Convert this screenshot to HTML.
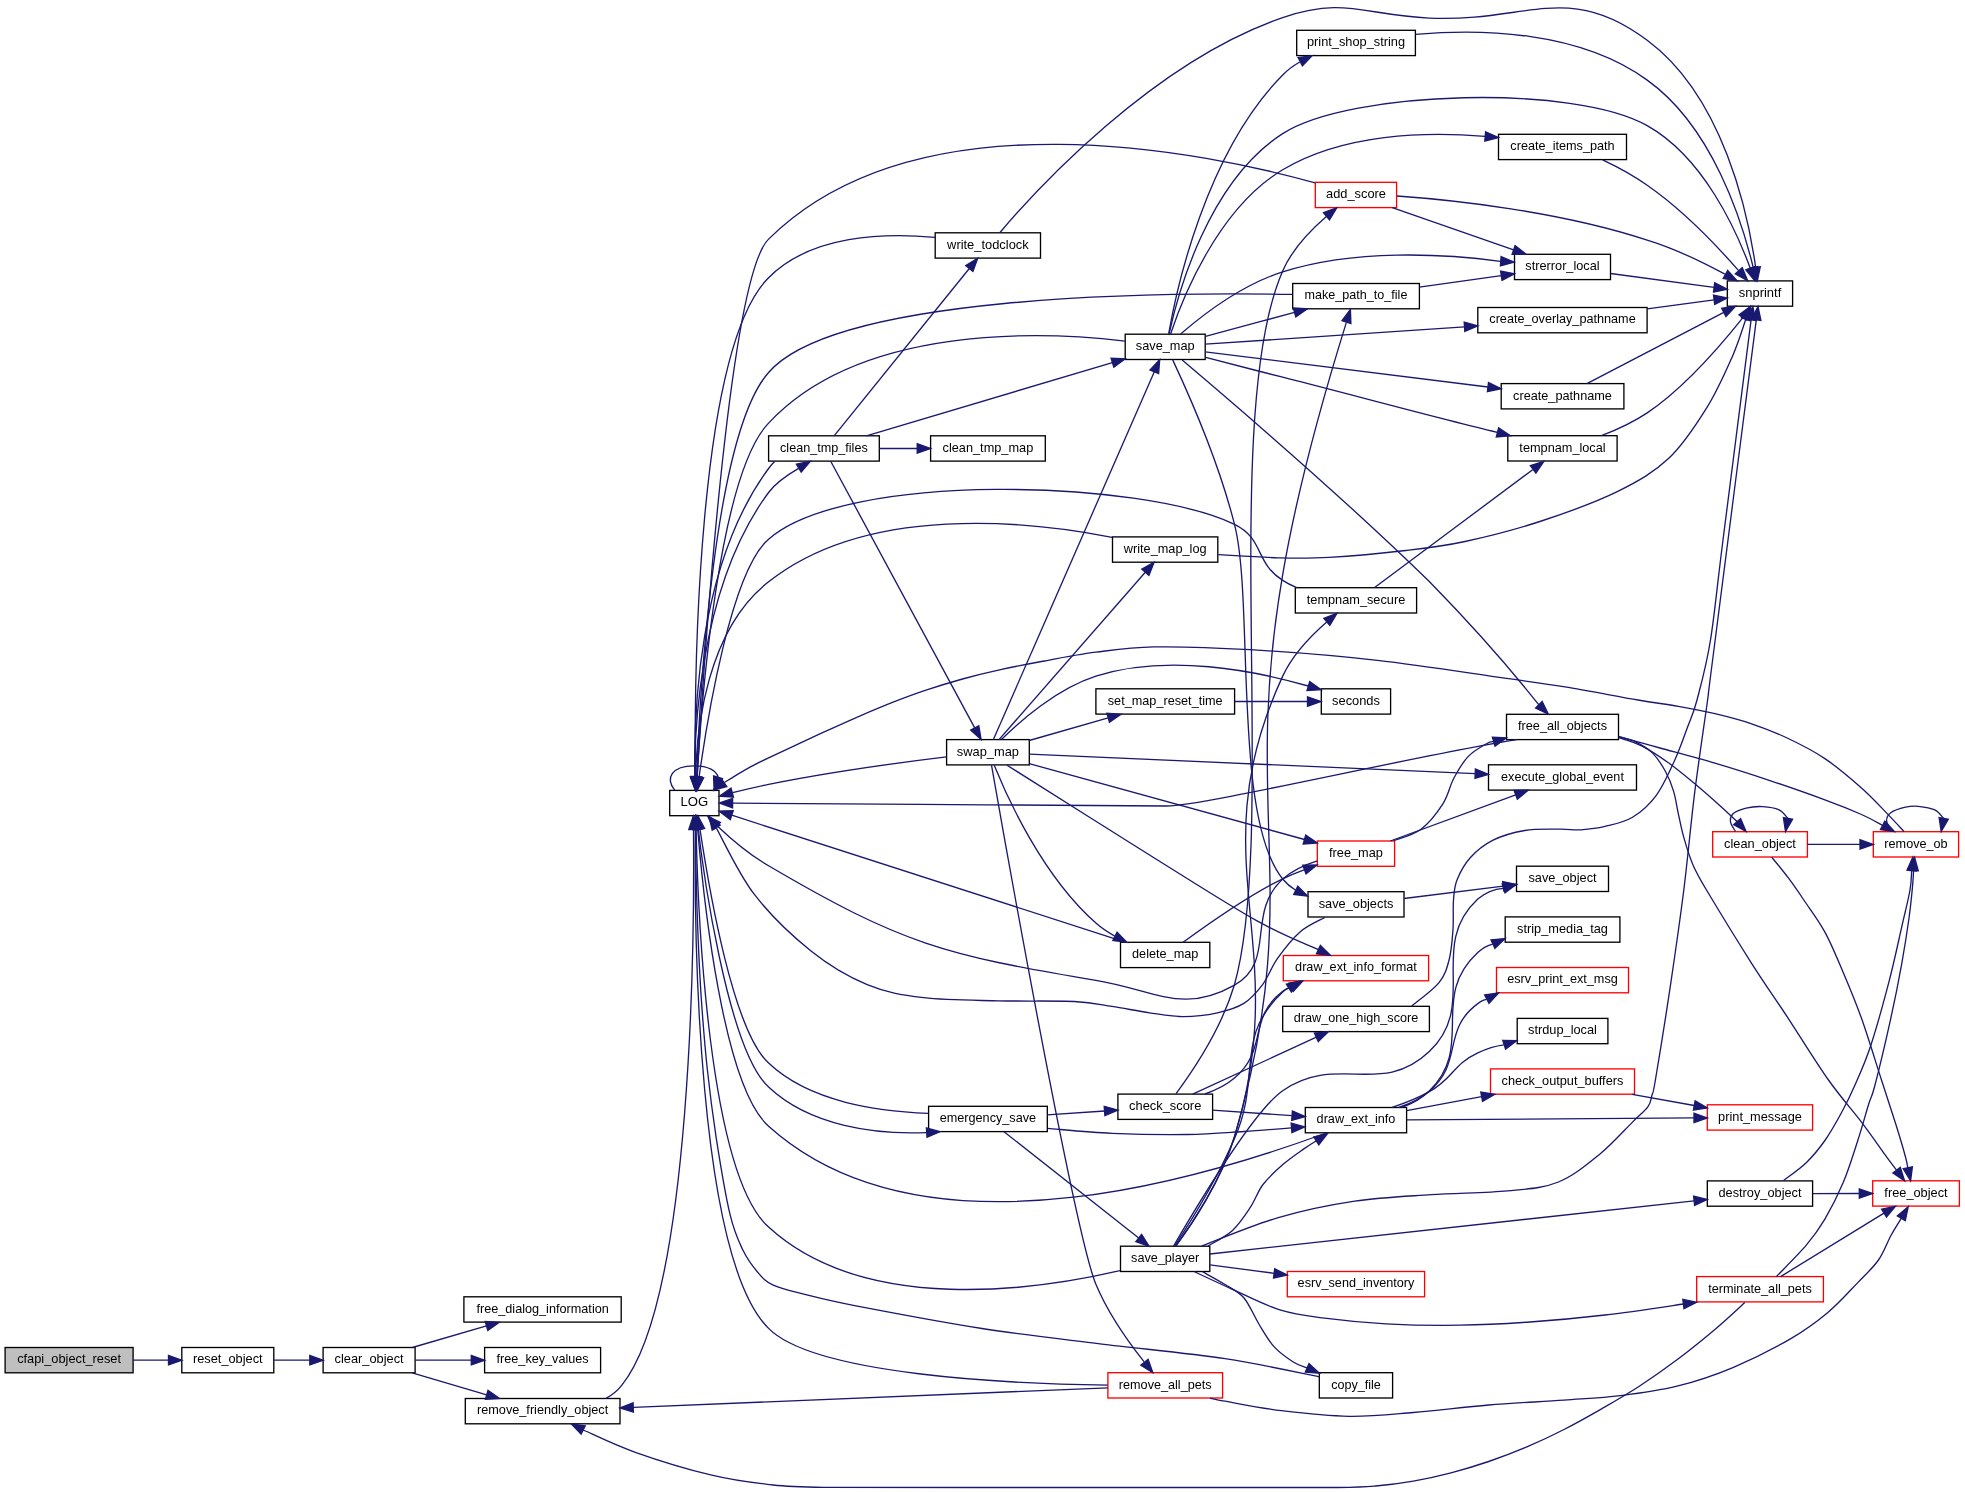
<!DOCTYPE html>
<html><head><meta charset="utf-8"><title>cfapi_object_reset call graph</title>
<style>html,body{margin:0;padding:0;background:#fff}svg{display:block;will-change:transform}text{font-family:"Liberation Sans","DejaVu Sans",sans-serif;font-size:13.33px;fill:#000;text-anchor:middle}.e{fill:none;stroke:#191970;stroke-width:1.33}.a{fill:#191970;stroke:#191970;stroke-width:1.33}.n{stroke-width:1.33}</style></head>
<body>
<svg width="1965" height="1492" viewBox="0 0 1965 1492">
<rect x="0" y="0" width="1965" height="1492" fill="#fff"/>
<rect class="n" x="5.1" y="1347.5" width="128" height="25.3" fill="#bfbfbf" stroke="#000"/><text x="69.1" y="1363.4" textLength="103.9" lengthAdjust="spacingAndGlyphs">cfapi_object_reset</text>
<rect class="n" x="181.8" y="1347.5" width="92" height="25.3" fill="#fff" stroke="#000"/><text x="227.8" y="1363.4" textLength="69.7" lengthAdjust="spacingAndGlyphs">reset_object</text>
<rect class="n" x="323.1" y="1347.5" width="92" height="25.3" fill="#fff" stroke="#000"/><text x="369.1" y="1363.4" textLength="69" lengthAdjust="spacingAndGlyphs">clear_object</text>
<rect class="n" x="463.9" y="1296.8" width="157.3" height="25.3" fill="#fff" stroke="#000"/><text x="542.6" y="1312.7" textLength="132.4" lengthAdjust="spacingAndGlyphs">free_dialog_information</text>
<rect class="n" x="484.6" y="1347.5" width="116" height="25.3" fill="#fff" stroke="#000"/><text x="542.6" y="1363.4" textLength="92" lengthAdjust="spacingAndGlyphs">free_key_values</text>
<rect class="n" x="465.3" y="1398.5" width="154.7" height="25.3" fill="#fff" stroke="#000"/><text x="542.6" y="1414.4" textLength="131.2" lengthAdjust="spacingAndGlyphs">remove_friendly_object</text>
<rect class="n" x="669.7" y="790.4" width="49.3" height="25.3" fill="#fff" stroke="#000"/><text x="694.4" y="806.3" textLength="27.7" lengthAdjust="spacingAndGlyphs">LOG</text>
<rect class="n" x="768.6" y="435.8" width="110.7" height="25.3" fill="#fff" stroke="#000"/><text x="823.9" y="451.7" textLength="87.7" lengthAdjust="spacingAndGlyphs">clean_tmp_files</text>
<rect class="n" x="935.2" y="232.8" width="105.3" height="25.3" fill="#fff" stroke="#000"/><text x="987.9" y="248.7" textLength="81.6" lengthAdjust="spacingAndGlyphs">write_todclock</text>
<rect class="n" x="930.6" y="435.8" width="114.7" height="25.3" fill="#fff" stroke="#000"/><text x="987.9" y="451.7" textLength="90.7" lengthAdjust="spacingAndGlyphs">clean_tmp_map</text>
<rect class="n" x="946.6" y="739.6" width="82.7" height="25.3" fill="#fff" stroke="#000"/><text x="987.9" y="755.5" textLength="62.2" lengthAdjust="spacingAndGlyphs">swap_map</text>
<rect class="n" x="928.6" y="1106.3" width="118.7" height="25.3" fill="#fff" stroke="#000"/><text x="987.9" y="1122.2" textLength="96.4" lengthAdjust="spacingAndGlyphs">emergency_save</text>
<rect class="n" x="1125.2" y="334.2" width="80" height="25.3" fill="#fff" stroke="#000"/><text x="1165.2" y="350.1" textLength="58.8" lengthAdjust="spacingAndGlyphs">save_map</text>
<rect class="n" x="1112.5" y="536.9" width="105.3" height="25.3" fill="#fff" stroke="#000"/><text x="1165.2" y="552.8" textLength="82.7" lengthAdjust="spacingAndGlyphs">write_map_log</text>
<rect class="n" x="1095.9" y="688.8" width="138.7" height="25.3" fill="#fff" stroke="#000"/><text x="1165.2" y="704.7" textLength="114.9" lengthAdjust="spacingAndGlyphs">set_map_reset_time</text>
<rect class="n" x="1120.5" y="942.3" width="89.3" height="25.3" fill="#fff" stroke="#000"/><text x="1165.2" y="958.2" textLength="66.4" lengthAdjust="spacingAndGlyphs">delete_map</text>
<rect class="n" x="1117.9" y="1094.1" width="94.7" height="25.3" fill="#fff" stroke="#000"/><text x="1165.2" y="1110" textLength="72.2" lengthAdjust="spacingAndGlyphs">check_score</text>
<rect class="n" x="1120.5" y="1246.2" width="89.3" height="25.3" fill="#fff" stroke="#000"/><text x="1165.2" y="1262.1" textLength="68.2" lengthAdjust="spacingAndGlyphs">save_player</text>
<rect class="n" x="1107.9" y="1372.7" width="114.7" height="25.3" fill="#fff" stroke="#f00"/><text x="1165.2" y="1388.6" textLength="92.7" lengthAdjust="spacingAndGlyphs">remove_all_pets</text>
<rect class="n" x="1296.7" y="30.3" width="118.7" height="25.3" fill="#fff" stroke="#000"/><text x="1356" y="46.2" textLength="98.1" lengthAdjust="spacingAndGlyphs">print_shop_string</text>
<rect class="n" x="1315.3" y="182.3" width="81.3" height="25.3" fill="#fff" stroke="#f00"/><text x="1356" y="198.2" textLength="59.9" lengthAdjust="spacingAndGlyphs">add_score</text>
<rect class="n" x="1292.7" y="283.5" width="126.7" height="25.3" fill="#fff" stroke="#000"/><text x="1356" y="299.4" textLength="102.8" lengthAdjust="spacingAndGlyphs">make_path_to_file</text>
<rect class="n" x="1295.3" y="587.7" width="121.3" height="25.3" fill="#fff" stroke="#000"/><text x="1356" y="603.6" textLength="98.5" lengthAdjust="spacingAndGlyphs">tempnam_secure</text>
<rect class="n" x="1321.3" y="688.8" width="69.3" height="25.3" fill="#fff" stroke="#000"/><text x="1356" y="704.7" textLength="47.9" lengthAdjust="spacingAndGlyphs">seconds</text>
<rect class="n" x="1317.3" y="841" width="77.3" height="25.3" fill="#fff" stroke="#f00"/><text x="1356" y="856.9" textLength="53.9" lengthAdjust="spacingAndGlyphs">free_map</text>
<rect class="n" x="1308" y="891.7" width="96" height="25.3" fill="#fff" stroke="#000"/><text x="1356" y="907.6" textLength="74.7" lengthAdjust="spacingAndGlyphs">save_objects</text>
<rect class="n" x="1283.3" y="955.5" width="145.3" height="25.3" fill="#fff" stroke="#f00"/><text x="1356" y="971.4" textLength="121.8" lengthAdjust="spacingAndGlyphs">draw_ext_info_format</text>
<rect class="n" x="1282.7" y="1006.3" width="146.7" height="25.3" fill="#fff" stroke="#000"/><text x="1356" y="1022.2" textLength="124.5" lengthAdjust="spacingAndGlyphs">draw_one_high_score</text>
<rect class="n" x="1305.3" y="1107.5" width="101.3" height="25.3" fill="#fff" stroke="#000"/><text x="1356" y="1123.4" textLength="78.8" lengthAdjust="spacingAndGlyphs">draw_ext_info</text>
<rect class="n" x="1287.3" y="1271.5" width="137.3" height="25.3" fill="#fff" stroke="#f00"/><text x="1356" y="1287.4" textLength="116.8" lengthAdjust="spacingAndGlyphs">esrv_send_inventory</text>
<rect class="n" x="1319.3" y="1372.7" width="73.3" height="25.3" fill="#fff" stroke="#000"/><text x="1356" y="1388.6" textLength="49.7" lengthAdjust="spacingAndGlyphs">copy_file</text>
<rect class="n" x="1498.5" y="134.3" width="128" height="25.3" fill="#fff" stroke="#000"/><text x="1562.5" y="150.2" textLength="104.3" lengthAdjust="spacingAndGlyphs">create_items_path</text>
<rect class="n" x="1514.5" y="254.3" width="96" height="25.3" fill="#fff" stroke="#000"/><text x="1562.5" y="270.2" textLength="74.3" lengthAdjust="spacingAndGlyphs">strerror_local</text>
<rect class="n" x="1477.8" y="307.5" width="169.3" height="25.3" fill="#fff" stroke="#000"/><text x="1562.5" y="323.4" textLength="146.4" lengthAdjust="spacingAndGlyphs">create_overlay_pathname</text>
<rect class="n" x="1501.2" y="383.6" width="122.7" height="25.3" fill="#fff" stroke="#000"/><text x="1562.5" y="399.5" textLength="98.9" lengthAdjust="spacingAndGlyphs">create_pathname</text>
<rect class="n" x="1507.8" y="435.7" width="109.3" height="25.3" fill="#fff" stroke="#000"/><text x="1562.5" y="451.6" textLength="86.3" lengthAdjust="spacingAndGlyphs">tempnam_local</text>
<rect class="n" x="1506.5" y="714.3" width="112" height="25.3" fill="#fff" stroke="#000"/><text x="1562.5" y="730.2" textLength="89" lengthAdjust="spacingAndGlyphs">free_all_objects</text>
<rect class="n" x="1488.5" y="764.8" width="148" height="25.3" fill="#fff" stroke="#000"/><text x="1562.5" y="780.7" textLength="122.8" lengthAdjust="spacingAndGlyphs">execute_global_event</text>
<rect class="n" x="1516.5" y="866.2" width="92" height="25.3" fill="#fff" stroke="#000"/><text x="1562.5" y="882.1" textLength="68.2" lengthAdjust="spacingAndGlyphs">save_object</text>
<rect class="n" x="1505.2" y="916.9" width="114.7" height="25.3" fill="#fff" stroke="#000"/><text x="1562.5" y="932.8" textLength="90.9" lengthAdjust="spacingAndGlyphs">strip_media_tag</text>
<rect class="n" x="1496.5" y="967.5" width="132" height="25.3" fill="#fff" stroke="#f00"/><text x="1562.5" y="983.4" textLength="110.7" lengthAdjust="spacingAndGlyphs">esrv_print_ext_msg</text>
<rect class="n" x="1517.2" y="1018.4" width="90.7" height="25.3" fill="#fff" stroke="#000"/><text x="1562.5" y="1034.3" textLength="68.9" lengthAdjust="spacingAndGlyphs">strdup_local</text>
<rect class="n" x="1490.5" y="1068.9" width="144" height="25.3" fill="#fff" stroke="#f00"/><text x="1562.5" y="1084.8" textLength="121.8" lengthAdjust="spacingAndGlyphs">check_output_buffers</text>
<rect class="n" x="1727.3" y="280.9" width="65.3" height="25.3" fill="#fff" stroke="#000"/><text x="1760" y="296.8" textLength="42.5" lengthAdjust="spacingAndGlyphs">snprintf</text>
<rect class="n" x="1712.7" y="831.7" width="94.7" height="25.3" fill="#fff" stroke="#f00"/><text x="1760" y="847.6" textLength="71.8" lengthAdjust="spacingAndGlyphs">clean_object</text>
<rect class="n" x="1707.3" y="1104.8" width="105.3" height="25.3" fill="#fff" stroke="#f00"/><text x="1760" y="1120.7" textLength="83.8" lengthAdjust="spacingAndGlyphs">print_message</text>
<rect class="n" x="1707.3" y="1180.9" width="105.3" height="25.3" fill="#fff" stroke="#000"/><text x="1760" y="1196.8" textLength="83" lengthAdjust="spacingAndGlyphs">destroy_object</text>
<rect class="n" x="1696.7" y="1276.6" width="126.7" height="25.3" fill="#fff" stroke="#f00"/><text x="1760" y="1292.5" textLength="103.6" lengthAdjust="spacingAndGlyphs">terminate_all_pets</text>
<rect class="n" x="1873.3" y="831.7" width="85.3" height="25.3" fill="#fff" stroke="#f00"/><text x="1916" y="847.6" textLength="63.3" lengthAdjust="spacingAndGlyphs">remove_ob</text>
<rect class="n" x="1872.7" y="1180.8" width="86.7" height="25.3" fill="#fff" stroke="#f00"/><text x="1916" y="1196.7" textLength="63.3" lengthAdjust="spacingAndGlyphs">free_object</text>
<path class="e" d="M133.1,1360.2L168.5,1360.2"/><polygon class="a" points="168.5,1364.9 181.8,1360.2 168.5,1355.5"/>
<path class="e" d="M273.8,1360.2L309.8,1360.2"/><polygon class="a" points="309.8,1364.9 323.1,1360.2 309.8,1355.5"/>
<path class="e" d="M412.4,1347.5L486.5,1325.9"/><polygon class="a" points="487.8,1330.4 499.3,1322.2 485.2,1321.4"/>
<path class="e" d="M415.1,1360.2L471.3,1360.2"/><polygon class="a" points="471.3,1364.9 484.6,1360.2 471.3,1355.5"/>
<path class="e" d="M412.2,1372.9L486.7,1394.8"/><polygon class="a" points="485.4,1399.3 499.5,1398.5 488,1390.3"/>
<path class="e" d="M606,1398.4C611.8,1395.1 617.1,1391 621.3,1385.8 692.8,1299.3 694.4,932.1 693.5,829.7"/><polygon class="a" points="688.8,829.5 693.3,816.1 698.1,829.4"/>
<path class="e" d="M674.7,790.1C665,778.3 671.7,765.7 694.4,765.8 708.6,765.8 716.5,770.7 718.1,777.2"/><polygon class="a" points="722.5,778.7 714.1,790.1 713.6,776"/>
<path class="e" d="M695,790.4C693.7,744.6 696.4,590 768.6,492.5 776,482.2 787.8,474.7 798.6,468.4"/><polygon class="a" points="796.4,464.2 810.3,461.4 801.2,472.2"/>
<path class="e" d="M696.8,816C702.2,867 727.3,1049.3 768.6,1087.1 810.1,1126.4 876.5,1134.8 926.2,1132.6"/><polygon class="a" points="926.4,1127.9 940,1131.7 927,1137.2"/>
<path class="e" d="M774.6,461.6C772.4,463.7 770.4,466 768.6,468.5 697.6,564.4 693.8,715.5 694.9,776.6"/><polygon class="a" points="699.6,776.7 695.3,790.2 690.3,777"/>
<path class="e" d="M879.2,448.5L917.2,448.5"/><polygon class="a" points="917.2,453.2 930.6,448.5 917.2,443.8"/>
<path class="e" d="M866.4,435.8L1112.4,362.6"/><polygon class="a" points="1113.8,367.1 1125.2,358.8 1111.1,358.1"/>
<path class="e" d="M830.7,461.2L974.7,727.9"/><polygon class="a" points="970.6,730.1 981.1,739.6 978.8,725.7"/>
<path class="e" d="M834.1,435.8L969.3,268.5"/><polygon class="a" points="972.9,271.5 977.7,258.2 965.7,265.6"/>
<path class="e" d="M1125.1,341.1C1045,331.7 861.8,323.2 768.6,423.1 718.8,474.9 701.6,699.3 697.1,776.7"/><polygon class="a" points="701.7,777.1 696.3,790.2 692.4,776.6"/>
<path class="e" d="M1170.5,334.2C1181.7,300.5 1217.2,208.8 1282.7,169.8 1343.4,133.6 1425.4,131.5 1485.1,136.4"/><polygon class="a" points="1485.6,131.8 1498.5,137.5 1484.8,141.1"/>
<path class="e" d="M1169.1,333.9C1177.4,295.4 1207.7,181.6 1282.7,133.6 1350.8,89.9 1575.7,84.3 1647.2,125.7 1703.4,157.4 1735.9,229.4 1750.1,267.8"/><polygon class="a" points="1754.6,266.6 1754.7,280.7 1745.8,269.7"/>
<path class="e" d="M1205.2,344.2L1464.5,326.8"/><polygon class="a" points="1464.8,331.4 1477.8,325.9 1464.2,322.1"/>
<path class="e" d="M1205.2,351.9L1487.9,387"/><polygon class="a" points="1487.4,391.7 1501.2,388.7 1488.5,382.4"/>
<path class="e" d="M1182.2,360C1223.3,394.8 1337.6,492.2 1429.3,581.5 1468.8,621.9 1512.9,672 1538.7,704.7"/><polygon class="a" points="1542.2,701.5 1548.3,714.2 1535.6,708.1"/>
<path class="e" d="M1205.5,336.4C1231.2,329.5 1265.3,320.3 1294.5,312.4"/><polygon class="a" points="1293.3,307.9 1307.4,308.9 1295.8,316.9"/>
<path class="e" d="M1180.6,334C1201.2,316.3 1241.6,284.9 1282.7,271.9 1354.6,249 1442.7,253.6 1500.5,261.3"/><polygon class="a" points="1501.1,256.6 1514.1,262.2 1500.4,265.9"/>
<path class="e" d="M1168.7,333.7C1176.2,290.6 1205.4,153.2 1282.7,75 1287.6,69.9 1293.5,65.6 1299.8,62"/><polygon class="a" points="1298.1,57.6 1312.1,55.7 1302.4,65.9"/>
<path class="e" d="M1172.7,359.9C1186.2,388.8 1218.3,460.7 1234.5,524.3 1254.3,601.4 1232.3,817.3 1282.7,879 1286.3,883.5 1290.7,887.2 1295.7,890.2"/><polygon class="a" points="1297.8,886.1 1307.7,896.2 1293.7,894.5"/>
<path class="e" d="M1205.7,357.4C1228.2,363.2 1257,370.7 1282.7,377.2 1356.1,395.9 1440.7,419 1497.4,432.4"/><polygon class="a" points="1498.6,427.9 1510.4,435.7 1496.3,436.9"/>
<path class="e" d="M1602.6,159.8C1617.2,166.7 1633.5,175.3 1647.2,185.3 1683.4,210.4 1717.9,247 1738.6,270.6"/><polygon class="a" points="1742.2,267.6 1747.7,280.7 1735.3,273.9"/>
<path class="e" d="M1647.2,308.8L1714.1,299.8"/><polygon class="a" points="1714.7,304.4 1727.3,298 1713.5,295.2"/>
<path class="e" d="M1586.9,383.6L1723.8,312.4"/><polygon class="a" points="1726,316.6 1735.6,306.3 1721.7,308.3"/>
<path class="e" d="M1516.8,739.7C1420.9,754.5 1201.7,806.3 1166.5,806 986.6,804.8 986.6,804.8 986.6,804.8 895.5,804.3 789,803.6 732.7,803.1"/><polygon class="a" points="732.6,807.8 719.3,803.1 732.6,798.4"/>
<path class="e" d="M1618.7,737.6C1622.5,739 1633.2,741.5 1641.6,745.8 1650,750.1 1659.9,756.6 1669.1,763.2 1678.3,769.8 1688.3,778.3 1696.6,785.2 1704.8,792.1 1711.8,798.3 1718.6,804.4 1725.4,810.5 1734.1,818.7 1737.2,821.6"/><polygon class="a" points="1733.7,824.7 1746.1,831.5 1740.6,818.5"/>
<path class="e" d="M1618.7,736.6C1621.6,737.5 1630.4,739.4 1636.1,742.1 1641.8,744.9 1647.7,748.2 1652.6,753.1 1657.5,758 1662,765.1 1665.5,771.5 1669,777.9 1671.6,784.6 1673.7,791.6 1675.8,798.6 1676.6,806 1678.3,813.6 1680,821.2 1681.3,828.9 1683.8,837.4 1686.2,845.9 1689.2,856.1 1693,864.9 1696.8,873.7 1696.7,873.6 1706.5,890 1716.3,906.4 1738,941.9 1751.6,963.3 1765.2,984.7 1775.4,998.8 1788.2,1018.3 1801,1037.8 1816.3,1062.7 1828.5,1080 1840.7,1097.3 1852,1109.6 1861.5,1122.1 1871,1134.6 1879.5,1147.1 1885.3,1155.1 1891.1,1163.1 1894.7,1167.6 1896.6,1170.1"/><polygon class="a" points="1892.9,1172.9 1904.6,1180.8 1900.3,1167.3"/>
<path class="e" d="M1618.7,736.6C1625.6,738.5 1644,743.6 1660,748 1676,752.4 1696.6,757.8 1714.9,763.2 1733.2,768.6 1751.6,774.5 1769.9,780.6 1788.2,786.7 1809.6,794.2 1824.9,799.9 1840.2,805.5 1851.9,810.3 1861.5,814.5 1871.1,818.7 1879.1,823.6 1882.6,825.4"/><polygon class="a" points="1880.5,829.5 1894.5,831.5 1884.8,821.2"/>
<path class="e" d="M1735.5,831.5C1734.7,829.9 1730.9,824.8 1730.5,821.8 1730.1,818.8 1730.7,815.9 1733.3,813.6 1735.9,811.3 1741.2,809.3 1746.1,808.1 1751,806.9 1757.1,806.3 1762.6,806.6 1768.1,806.9 1774.9,807.9 1779.1,809.9 1783.3,811.9 1786.5,817 1788,818.4"/><polygon class="a" points="1783.4,817.5 1785.5,831.5 1792.6,819.3"/>
<path class="e" d="M1771.7,857.2C1774.5,860.6 1782.9,870.6 1788.2,877.7 1793.5,884.8 1797.7,890.9 1803.8,900 1809.9,909.1 1818.3,920 1824.9,932.1 1831.5,944.2 1837.1,958 1843.2,972.4 1849.3,986.8 1855.1,1000.4 1861.5,1018.3 1867.9,1036.2 1875.7,1062.1 1881.5,1080 1887.3,1097.9 1892.3,1113 1896.3,1125.8 1900.3,1138.6 1903.6,1150 1905.5,1157 1907.4,1164 1907.4,1166 1907.8,1167.8"/><polygon class="a" points="1903.2,1168.7 1910.6,1180.8 1912.4,1166.8"/>
<path class="e" d="M1807.3,844.4L1860,844.4"/><polygon class="a" points="1860,849.1 1873.3,844.4 1860,839.7"/>
<path class="e" d="M1904,831.5C1901.2,828.5 1894.3,820.9 1887.2,813.6 1880.1,806.4 1871.9,797.2 1861.5,788 1851.1,778.8 1837.1,766.9 1824.9,758.6 1812.7,750.4 1800.4,744.3 1788.2,738.5 1776,732.7 1763.8,727.9 1751.6,723.8 1739.4,719.7 1727.1,716.6 1714.9,713.7 1702.7,710.8 1691.1,708.7 1678.3,706.4 1665.5,704.1 1656.9,703.2 1638,700 1619.1,696.8 1587.2,690.5 1565,686.9 1542.8,683.3 1536,682.6 1504.7,678.2 1473.4,673.8 1419.9,665.1 1377.4,660.4 1335,655.6 1287.2,651.9 1250,649.7 1212.8,647.5 1179.8,646.5 1154.1,646.9 1128.4,647.4 1114.2,649.9 1095.9,652.2 1077.6,654.6 1060.1,658 1044.2,661 1028.3,663.9 1014.2,666.7 1000.6,669.7 987,672.7 974.7,675.7 962.5,679 950.3,682.4 939.1,685.8 927.5,689.7 916,693.5 904.9,697.6 893.1,702.2 881.4,706.8 869.7,711.8 856.8,717.3 844,722.9 830.9,728.9 816.1,735.6 801.4,742.4 779.4,752.7 768.6,757.8 757.8,762.9 757.1,763.4 751.4,766.4 745.8,769.5 739.2,773.4 734.7,776.1 730.2,778.8 726.1,781.5 724.4,782.5"/><polygon class="a" points="726.8,786.5 713.2,790.2 721.5,778.8"/>
<path class="e" d="M1891.7,831.5C1890.8,829.7 1886.8,824 1886.6,820.9 1886.4,817.8 1887.6,815 1890.8,812.7 1894,810.4 1900.9,808.3 1905.5,807.2 1910.1,806.1 1913.4,805.8 1918.3,806.3 1923.2,806.8 1930.6,807.9 1934.8,809.9 1939,811.9 1942.2,817 1943.7,818.4"/><polygon class="a" points="1939.1,817.5 1941.2,831.5 1948.3,819.3"/>
<path class="e" d="M1292.7,294.4C1156.2,292 835.4,295.1 768.6,372.5 714.1,433.7 699.9,692.8 696.6,776.7"/><polygon class="a" points="701.3,777.1 696.1,790.3 691.9,776.8"/>
<path class="e" d="M1419.3,287.2L1501.3,275.7"/><polygon class="a" points="1502,280.3 1514.5,273.8 1500.6,271"/>
<path class="e" d="M1610.5,273.5L1714.1,287.4"/><polygon class="a" points="1713.5,292 1727.3,289.2 1714.7,282.8"/>
<path class="e" d="M1415.5,34.4C1478.6,28.8 1578.4,30.1 1647.2,80.1 1712.4,126.6 1741.9,221 1753.1,267"/><polygon class="a" points="1757.7,266.5 1756.2,280.5 1748.6,268.6"/>
<path class="e" d="M1324.8,917.5C1320.7,919.9 1308.1,925 1300.3,931.8 1292.5,938.6 1284,949.4 1277.7,958.2 1271.4,967 1268.2,977.1 1262.6,984.6 1256.9,992.1 1251.3,998.7 1243.8,1003.4 1236.3,1008.1 1227.5,1010.6 1217.4,1012.8 1207.4,1015 1194.8,1016.6 1183.5,1016.6 1172.2,1016.6 1161.5,1014.5 1149.6,1012.8 1137.7,1011.1 1124.5,1008.3 1112,1006.4 1099.5,1004.5 1093.1,1002.4 1074.3,1001.5 1055.5,1000.6 1024.1,1001.4 999,1000.8 973.9,1000.2 945.7,1000.4 923.7,997.7 901.7,995 886,992.4 867.2,984.6 848.4,976.8 829.5,965.8 810.7,950.7 791.9,935.6 770,914.7 754.2,894.2 738.4,873.7 722.5,838.7 716.1,827.6"/><polygon class="a" points="720.1,825.1 709,816.3 712.2,830.1"/>
<path class="e" d="M1404,898.5L1503.3,886.2"/><polygon class="a" points="1503.8,890.8 1516.5,884.6 1502.7,881.6"/>
<path class="e" d="M1601.4,435.7C1616.5,429.9 1633.4,422.2 1647.2,412.9 1688.1,385.3 1723.6,341.8 1742.9,317.6"/><polygon class="a" points="1739.1,314.9 1750.5,306.5 1746.9,320.2"/>
<path class="e" d="M946.4,756.9C902,762.3 829.7,772 768.6,784.4 756.9,786.8 744.4,789.7 732.6,792.6"/><polygon class="a" points="733.5,797.2 719.4,796.2 731,788.2"/>
<path class="e" d="M993.4,739.6L1154.3,371.8"/><polygon class="a" points="1158.6,373.6 1159.7,359.6 1150,369.9"/>
<path class="e" d="M994.2,765.2C1006.7,796.2 1042.4,875.9 1095.9,923 1101.5,928 1108,932.3 1114.7,936.1"/><polygon class="a" points="1117.1,932.1 1126.9,942.3 1112.9,940.4"/>
<path class="e" d="M1029.2,763.7L1304.5,839.5"/><polygon class="a" points="1303.2,844 1317.3,843 1305.7,835"/>
<path class="e" d="M1029.2,754.1L1475.2,773.7"/><polygon class="a" points="1475,778.3 1488.5,774.3 1475.4,769"/>
<path class="e" d="M1007,765.2C1031.6,780.7 1113.1,832.3 1154.7,858.2 1196.3,884.1 1229.3,905.4 1256.6,920.6 1283.9,935.8 1308.1,944.8 1318.4,949.6"/><polygon class="a" points="1316.4,953.9 1330.5,955.3 1320.4,945.4"/>
<path class="e" d="M991.5,765.1C1004.8,841.3 1074.7,1234 1095.9,1284.2 1107.9,1313 1128.6,1342.2 1144,1361.7"/><polygon class="a" points="1148.1,1359.3 1152.8,1372.6 1140.8,1365.2"/>
<path class="e" d="M1001.4,739.5C1019.8,721.3 1056.6,688.8 1095.9,676.2 1167.4,653.2 1255.4,670.8 1308.2,686"/><polygon class="a" points="1309.7,681.5 1321.1,689.8 1307,690.5"/>
<path class="e" d="M1029.2,740.5L1108.2,717.8"/><polygon class="a" points="1109.5,722.3 1121,714.2 1106.9,713.3"/>
<path class="e" d="M999,739.6L1145.3,572.3"/><polygon class="a" points="1148.9,575.4 1154.1,562.3 1141.8,569.2"/>
<path class="e" d="M1125.9,942.3L731.8,815.2"/><polygon class="a" points="733.2,810.7 719.1,811.1 730.3,819.6"/>
<path class="e" d="M1183.1,942.3C1204.9,926.4 1245,897.1 1282.7,878.8 1289.4,875.5 1296.7,872.5 1304,869.8"/><polygon class="a" points="1302.8,865.2 1317,865 1306,874"/>
<path class="e" d="M1317.3,860.8C1305.1,864.6 1292.3,870.3 1282.7,879 1245.5,913.3 1276.8,961.2 1234.5,985.1 1182.5,1014.4 1156.7,990.5 1095.9,980.3 944,955.1 901.1,943.7 768.6,865.8 749.6,854.9 731,839 717.3,826"/><polygon class="a" points="713.8,829 707.7,816.2 720.4,822.4"/>
<path class="e" d="M1393.7,840.7C1398.2,838.8 1412.8,835.4 1421,829.2 1429.2,823.1 1437.4,812.3 1442.9,803.8 1448.4,795.3 1449.6,786.2 1453.8,778.3 1458,770.4 1462.8,762.2 1468.3,756.4 1473.8,750.6 1482.3,746.2 1486.5,743.7 1490.7,741.2 1492.5,741.9 1493.7,741.6"/><polygon class="a" points="1495,746.1 1506.5,737.8 1492.4,737.1"/>
<path class="e" d="M1390.3,841L1515.7,794.8"/><polygon class="a" points="1517.3,799.2 1528.2,790.2 1514.1,790.4"/>
<path class="e" d="M1107.9,1387.8L633.3,1407.4"/><polygon class="a" points="633.1,1402.8 619.9,1408 633.4,1412.1"/>
<path class="e" d="M1107.7,1385.2C1009.8,1383.8 814.6,1375 768.6,1328.4 696.5,1257.2 694.4,926.7 695.3,829.8"/><polygon class="a" points="690.7,829.2 695.5,815.9 700,829.3"/>
<path class="e" d="M1210,1398.1C1212.5,1398.6 1213.1,1399.1 1225,1401.2 1236.9,1403.3 1260.8,1408.2 1281.5,1410.7 1302.2,1413.2 1327.3,1416 1349.3,1416.3 1371.3,1416.6 1390.1,1414.4 1413.3,1412.5 1436.5,1410.6 1463.6,1407.1 1488.7,1405 1513.8,1402.9 1542,1401.7 1564,1400.1 1586,1398.5 1601.7,1397.9 1620.5,1395.6 1639.3,1393.3 1658.2,1390.9 1677,1386.2 1695.8,1381.5 1714.7,1375.2 1733.5,1367.3 1752.3,1359.4 1774.3,1348.2 1790,1339.1 1805.7,1330 1816.3,1322.1 1827.6,1312.7 1838.9,1303.3 1849.3,1291.4 1857.8,1282.6 1866.3,1273.8 1873,1267.8 1878.5,1260 1884,1252.2 1887,1242.7 1890.8,1235.7 1894.6,1228.7 1899.6,1221.1 1901.3,1218.2"/><polygon class="a" points="1905.3,1220.6 1908.2,1206.8 1897.3,1215.8"/>
<path class="e" d="M1234.9,701.5C1258.9,701.5 1285.3,701.5 1307.2,701.5"/><polygon class="a" points="1307.5,696.8 1320.9,701.5 1307.5,706.2"/>
<path class="e" d="M1112.1,537.3C1029.5,521.2 867.6,503.3 768.6,581.8 706.8,629.5 696.7,728.7 695.5,776.4"/><polygon class="a" points="700.2,776.6 695.4,789.9 690.9,776.5"/>
<path class="e" d="M1218.4,554.7C1228.4,555.2 1259.8,557.4 1278.3,557.8 1296.8,558.2 1308,558.5 1329.2,557.3 1350.4,556.1 1383.1,553.1 1405.7,550.5 1428.3,547.9 1442.4,546.4 1465,541.5 1487.6,536.6 1515.9,529.4 1541.4,521 1566.9,512.6 1596.6,501.8 1617.8,491.4 1639,480.9 1653.9,472.3 1668.8,458.3 1683.7,444.3 1696.4,424.4 1707,407.4 1717.6,390.4 1725.9,371.1 1732.4,356.4 1738.9,341.7 1743.6,325.4 1745.8,319.2"/><polygon class="a" points="1750.2,320.8 1750.3,306.7 1741.4,317.7"/>
<path class="e" d="M935.1,237.3C884.5,232.7 811.1,234.7 768.6,277.7 696.6,349 694.4,679.5 695.3,776.4"/><polygon class="a" points="700,776.9 695.5,790.3 690.7,777"/>
<path class="e" d="M999.8,232.7C1034.6,191.5 1152.2,62.3 1282.7,17.6 1344.3,-3.5 1364.2,15.1 1429.3,18.1 1526.7,22.6 1568.1,-19.4 1647.2,40.3 1723.5,96.9 1748.1,214.3 1755.6,266.9"/><polygon class="a" points="1760.3,266.7 1757.4,280.5 1751.1,267.8"/>
<path class="e" d="M928.4,1113.4C878.5,1111 810.7,1102.9 768.6,1063.1 732.8,1030.3 709.1,889.1 700,829.4"/><polygon class="a" points="695.4,830 698,816.1 704.6,828.6"/>
<path class="e" d="M1047.2,1114.9L1104.6,1111"/><polygon class="a" points="1104.9,1115.6 1117.9,1110.1 1104.2,1106.3"/>
<path class="e" d="M1047.9,1128.4C1058.6,1129.2 1088.8,1132.3 1112,1133.3 1135.2,1134.3 1165.3,1134.8 1187.3,1134.5 1209.3,1134.2 1226.4,1132.6 1243.8,1131.5 1261.2,1130.4 1283.6,1128.5 1291.5,1127.9"/><polygon class="a" points="1291.9,1132.6 1304.8,1126.9 1291.2,1123.2"/>
<path class="e" d="M1004,1131.7L1138.7,1238"/><polygon class="a" points="1135.8,1241.6 1149.1,1246.2 1141.6,1234.3"/>
<path class="e" d="M1205,1094C1215.4,1090.4 1226.2,1085.2 1234.5,1078.1 1268.5,1049.3 1247.1,1018.4 1282.7,991.3 1285.2,989.4 1288,987.6 1290.9,987.3"/><polygon class="a" points="1288.9,983.2 1302.8,981 1293.3,991.4"/>
<path class="e" d="M1175.9,1093.9C1191.3,1073 1221.6,1028.4 1234.5,984.5 1278.3,827.9 1219.1,415.4 1282.7,270.9 1292.1,249.3 1310.6,230 1326.4,216.4"/><polygon class="a" points="1323.5,212.7 1336.8,207.8 1329.5,219.9"/>
<path class="e" d="M1212.5,1110.1L1292,1115.7"/><polygon class="a" points="1291.7,1120.4 1305.3,1116.6 1292.4,1111"/>
<path class="e" d="M1192.7,1094.1L1316.4,1037.2"/><polygon class="a" points="1318.3,1041.5 1328.5,1031.7 1314.4,1033"/>
<path class="e" d="M1315.1,182.9C1209.6,153.4 919.1,90.8 768.6,239.1 728.6,277.5 703.3,670.4 697.2,776.7"/><polygon class="a" points="701.8,777.2 696.4,790.2 692.5,776.6"/>
<path class="e" d="M1397,196C1453.7,200 1560.4,211.5 1647.2,240.1 1674.7,248.5 1703.7,262.7 1724.9,274.2"/><polygon class="a" points="1727.7,270.4 1737.1,280.9 1723.2,278.6"/>
<path class="e" d="M1392.3,207.7L1513.6,249.9"/><polygon class="a" points="1512.1,254.4 1526.2,254.3 1515.1,245.5"/>
<path class="e" d="M1326.3,1133C1232.9,1167 931.3,1272.4 768.6,1126.2 723.1,1086.2 703.5,899.1 697.7,829.4"/><polygon class="a" points="693.1,829.7 696.6,816 702.4,829"/>
<path class="e" d="M1406.7,1110.7L1481.6,1096.7"/><polygon class="a" points="1482.5,1101.3 1494.7,1094.3 1480.8,1092.1"/>
<path class="e" d="M1406.7,1119.9L1694,1117.9"/><polygon class="a" points="1694,1122.6 1707.3,1117.9 1694,1113.3"/>
<path class="e" d="M1398.8,1107.5C1409.6,1103.7 1420.7,1098.5 1429.3,1091.2 1463.9,1062.2 1441.3,1030.4 1477.8,1003.6 1480.5,1001.6 1483.4,999.8 1486.4,999.4"/><polygon class="a" points="1484.7,995 1498.6,993 1489,1003.3"/>
<path class="e" d="M1392.2,1107.4C1404.4,1103.4 1417.9,1098.1 1429.3,1091.7 1453.8,1078.1 1452.4,1064.7 1477.8,1052.8 1485.9,1049 1494.8,1046 1503.8,1044.8"/><polygon class="a" points="1502.7,1040.3 1516.8,1040.6 1505.6,1049.2"/>
<path class="e" d="M1401.5,1107.5C1411.7,1103.8 1421.8,1098.5 1429.3,1091 1475.5,1045.6 1428.7,997.7 1477.8,952.6 1482.2,948.4 1487.3,945.3 1492.7,944.1"/><polygon class="a" points="1491,939.8 1505.1,938.6 1494.9,948.3"/>
<path class="e" d="M1632.2,1094.3L1694.2,1105.5"/><polygon class="a" points="1693.4,1110.1 1707.3,1107.9 1695.1,1100.9"/>
<path class="e" d="M1411.7,1006C1416.2,1002.1 1432.7,990.4 1439,982.6 1445.3,974.8 1447,967.9 1449.3,959 1451.6,950.1 1452.3,939.3 1453,929.5 1453.7,919.7 1452.8,908.2 1453.5,900 1454.2,891.8 1454.2,887 1457,880 1459.8,873 1464.1,864.6 1470,858 1475.9,851.4 1483.5,845 1492.6,840.4 1501.7,835.8 1513.6,832.4 1524.8,830.5 1536,828.6 1550.6,829.3 1560,829.2 1569.4,829.1 1573.5,830.3 1581,829.8 1588.5,829.3 1596.4,828.5 1605,826.4 1613.6,824.3 1624,822.5 1632.5,817.3 1641,812.1 1649.3,804.8 1656.3,795.3 1663.3,785.8 1669.4,771.8 1674.6,760.5 1679.8,749.2 1683.7,737.6 1687.4,727.5 1691.1,717.4 1693.2,714.6 1697,700 1700.8,685.4 1706.2,666.7 1710.5,640 1714.8,613.3 1716.2,593.4 1723,540 1729.8,486.6 1746.4,356.5 1751.1,319.8"/><polygon class="a" points="1755.7,320.4 1752.8,306.6 1746.5,319.2"/>
<path class="e" d="M1119.9,1270.7C1038.7,1289.6 865.2,1315.8 768.6,1227.1 708.3,1173.2 697.9,913.8 696.1,829.6"/><polygon class="a" points="691.5,829.4 695.9,816 700.8,829.2"/>
<path class="e" d="M1201.9,1245.9C1214.6,1241.2 1252.8,1225.1 1278.3,1217.6 1303.8,1210.1 1329.2,1204.9 1354.7,1201.1 1380.2,1197.3 1405.6,1196.4 1431.1,1194.7 1456.6,1193 1486.3,1193 1507.5,1190.9 1528.7,1188.8 1543.1,1188.2 1558.5,1182 1573.9,1175.8 1587.7,1164 1600,1154 1612.3,1144 1624.5,1130 1632.5,1122.1 1640.5,1114.2 1644.8,1111.1 1648,1106.6 1651.2,1102.1 1650.8,1099.4 1652,1095 1653.2,1090.6 1652.2,1098.9 1655.4,1080 1658.6,1061.1 1666.3,1013.3 1671,981.6 1675.7,949.9 1679.8,921.7 1683.8,890 1687.8,858.3 1690.8,823.3 1694.8,791.6 1698.8,759.9 1704.6,721.9 1707.6,700 1710.6,678.1 1704.5,723.4 1712.6,660 1720.7,596.6 1749,376.5 1756.3,319.8"/><polygon class="a" points="1760.9,320.4 1758,306.6 1751.7,319.2"/>
<path class="e" d="M1175.8,1246C1191.1,1225.7 1221.2,1181.2 1234.5,1136.6 1305.6,893.2 1240.6,819.3 1282.7,574.6 1298.8,480.5 1331,371.7 1346.3,322.6"/><polygon class="a" points="1342,320.7 1350.4,309.4 1350.9,323.5"/>
<path class="e" d="M1173.5,1246.1C1193.5,1212 1252.1,1111.9 1282.7,1090.7 1337.1,1052.9 1381.2,1097.4 1429.3,1051.6 1479.2,1004.4 1427,946.2 1477.8,899.1 1484.9,893 1493.9,889.1 1503.3,888.4"/><polygon class="a" points="1502.2,883.9 1516.3,884.3 1505,892.8"/>
<path class="e" d="M1174.5,1246C1188.2,1225.4 1216.3,1180.5 1234.5,1138.5 1262.2,1075.5 1233.3,1038.4 1282.7,992 1284.5,990.2 1286.6,988.6 1288.7,988.2"/><polygon class="a" points="1286.4,984.1 1300.2,981 1291.4,992"/>
<path class="e" d="M1208.3,1245.9C1212.3,1243.3 1225.5,1236.8 1232.5,1230.4 1239.5,1224 1245.2,1215.1 1250.3,1207.4 1255.4,1199.8 1257.5,1191.7 1263,1184.5 1268.5,1177.3 1276.6,1170 1283.4,1164.1 1290.2,1158.2 1298.3,1152.8 1303.8,1148.9 1309.3,1145 1314.2,1142.2 1316.3,1140.8"/><polygon class="a" points="1318.8,1144.8 1327.5,1133.6 1313.8,1136.9"/>
<path class="e" d="M1202.5,1271.7C1206.2,1273.8 1218.1,1280.2 1225,1284.5 1231.9,1288.8 1238.1,1291.1 1243.8,1297.7 1249.5,1304.3 1253.9,1315.8 1258.9,1324 1263.9,1332.2 1268.3,1340.3 1274,1346.6 1279.7,1352.9 1287.3,1358.1 1292.8,1361.7 1298.3,1365.3 1304.8,1366.9 1307.2,1367.9"/><polygon class="a" points="1305.3,1372.2 1319.4,1373.2 1309,1363.6"/>
<path class="e" d="M1209.9,1254L1694.1,1200.8"/><polygon class="a" points="1694.6,1205.5 1707.3,1199.4 1693.6,1196.2"/>
<path class="e" d="M1209.9,1264.8L1274.1,1273.3"/><polygon class="a" points="1273.5,1278 1287.3,1275.1 1274.7,1268.7"/>
<path class="e" d="M1175.7,1246C1190.8,1225.6 1220.8,1181.1 1234.5,1136.7 1294.7,942.7 1197.3,860.9 1282.7,676.1 1292.5,654.7 1311,635.6 1326.7,621.9"/><polygon class="a" points="1323.8,618.3 1337,613.3 1329.8,625.4"/>
<path class="e" d="M1194.4,1271.7C1200.8,1274.7 1218.8,1283.2 1233,1289.6 1247.2,1296 1264.6,1305.2 1279.9,1309.9 1295.2,1314.7 1307,1315.8 1324.6,1318.1 1342.2,1320.4 1363.1,1322.6 1385.7,1323.8 1408.3,1325 1436,1325.5 1460,1325.2 1484,1324.9 1505.8,1323.7 1530,1322 1554.2,1320.3 1579.4,1318 1605,1315 1630.6,1312 1670.3,1305.9 1683.4,1304"/><polygon class="a" points="1684,1308.7 1696.6,1302.2 1682.8,1299.4"/>
<path class="e" d="M1319.2,1376.8C1303.5,1373.8 1261.5,1364.2 1225,1358.7 1188.5,1353.2 1140.5,1348.8 1100,1343.8 1059.5,1338.8 1022.9,1334.9 982,1328.5 941.1,1322.1 884.4,1311.3 854.7,1305.6 825,1299.9 817.4,1297.5 803.8,1294.1 790.2,1290.7 780.9,1288.8 773.2,1285.2 765.6,1281.6 763,1278.5 757.9,1272.5 752.8,1266.5 747.3,1259.3 742.6,1249.5 737.9,1239.7 734.3,1232.5 729.9,1213.9 725.5,1195.3 720,1162.1 716.2,1137.8 712.5,1113.5 709.7,1091.6 707.2,1068.2 704.7,1044.8 702.8,1020.3 701.2,997.3 699.7,974.4 698.6,951.2 697.8,930.4 696.9,909.6 696.5,889.5 696.1,872.7 695.8,855.8 695.7,836.6 695.6,829.4"/><polygon class="a" points="691,829.1 695.6,815.8 700.3,829.1"/>
<path class="e" d="M1812.7,1193.6L1859.3,1193.5"/><polygon class="a" points="1859.3,1198.2 1872.7,1193.5 1859.3,1188.9"/>
<path class="e" d="M1783.6,1180.4C1787.4,1177.4 1799.6,1169.1 1806.5,1162.4 1813.4,1155.8 1819.1,1148.7 1824.9,1140.5 1830.7,1132.3 1836.3,1122.2 1841.3,1113 1846.3,1103.8 1850.1,1096.2 1855,1085 1859.9,1073.8 1865,1062.9 1870.7,1045.7 1876.4,1028.5 1883.8,1001.5 1889,981.6 1894.2,961.8 1898.3,941.9 1901.8,926.6 1905.3,911.3 1908.4,899.3 1910,890 1911.6,880.7 1911.4,873.8 1911.7,870.6"/><polygon class="a" points="1916.3,871 1912.8,857.3 1907,870.2"/>
<path class="e" d="M1296.7,587.7C1291.8,585.6 1287,583.2 1282.7,580.4 1254.9,562.8 1264.1,538.6 1234.5,524.3 1141.6,479.6 846.1,471.1 768.6,539.2 731.4,570.7 707.5,716.7 699.1,776.9"/><polygon class="a" points="703.7,777.7 697.3,790.3 694.5,776.5"/>
<path class="e" d="M1374.3,587.7C1409.3,561.6 1489.7,501.7 1532.7,469.7"/><polygon class="a" points="1530.3,465.6 1543.8,461.4 1535.9,473.1"/>
<path class="e" d="M1744.8,1302.6C1739.8,1307.1 1725.9,1320.2 1714.6,1329.7 1703.3,1339.2 1689.5,1350.4 1677,1359.8 1664.5,1369.2 1651.9,1378 1639.3,1386.2 1626.7,1394.4 1614.1,1401.6 1601.6,1408.8 1589,1416 1576.5,1423.1 1564,1429.5 1551.5,1435.9 1538.8,1441.9 1526.3,1447.2 1513.8,1452.5 1501.2,1457.2 1488.7,1461.5 1476.2,1465.8 1463.6,1469.5 1451,1472.8 1438.4,1476.1 1425.8,1478.9 1413.3,1481.1 1400.8,1483.3 1388.2,1484.9 1375.7,1486 1363.2,1487.1 1363.1,1487.2 1338,1487.5 1312.9,1487.8 1281.3,1487.5 1225,1487.5 1168.7,1487.5 1066.9,1487.5 1000,1487.5 933.1,1487.5 862.5,1487.8 823.7,1487.3 784.9,1486.8 786,1486.4 767.2,1484.3 748.4,1482.2 732.7,1480.2 710.7,1474.9 688.7,1469.6 656.5,1459.8 635.3,1452.3 614.1,1444.8 591.9,1433.7 583.2,1430"/><polygon class="a" points="585.3,1425.8 571.3,1424 581.1,1434.2"/>
<path class="e" d="M1780.6,1276.6L1884,1213.1"/><polygon class="a" points="1886.5,1217.1 1895.4,1206.2 1881.6,1209.2"/>
<path class="e" d="M1776.3,1276.7C1781.3,1271.4 1798.4,1254.5 1806.5,1244.9 1814.6,1235.3 1818.8,1229.6 1824.9,1219.2 1831,1208.8 1837.7,1195.7 1843.2,1182.6 1848.7,1169.5 1853.5,1153.6 1857.8,1140.5 1862.1,1127.4 1865.9,1113 1868.8,1103.8 1871.7,1094.5 1871.3,1099.2 1875,1085 1878.7,1070.8 1886.3,1038.6 1890.8,1018.3 1895.3,998 1898.8,980.1 1901.8,963.3 1904.8,946.5 1907.4,929.7 1909.1,917.5 1910.8,905.3 1911.4,897.8 1912.2,890 1913,882.2 1913.4,873.8 1913.6,870.6"/><polygon class="a" points="1918.3,870.9 1914.6,857.3 1909,870.3"/>
</svg>
</body></html>
